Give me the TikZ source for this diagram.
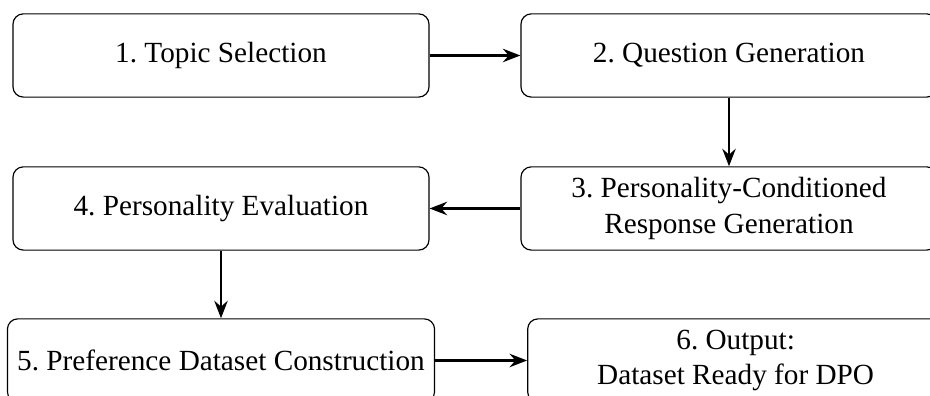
\documentclass[tikz,border=0pt]{standalone}
\usepackage{fontspec}
\setmainfont{Liberation Serif}
\frenchspacing
\usetikzlibrary{arrows.meta,positioning}
\begin{document}
\begin{tikzpicture}[x=0.342pt,y=-0.342pt,
  stage/.style={draw=black, line width=0.4pt, rounded corners=3.5pt,
    minimum width=5cm, minimum height=1cm, align=center, inner sep=3.33pt,
    font=\fontsize{10pt}{12pt}\selectfont},
  flow/.style={-{Stealth[length=6pt,width=4.6pt,inset=2pt]}, line width=0.8pt}]
  \useasboundingbox (0,0) rectangle (930,396);
  % pipeline stages
  \node[stage] (n1) at (221,55.5) {1. Topic Selection};
  \node[stage] (n2) at (729,55.5) {2. Question Generation};
  \node[stage] (n3) at (729,208.5) {3. Personality-Conditioned\\Response Generation};
  \node[stage] (n4) at (221,208.5) {4. Personality Evaluation};
  \node[stage] (n5) at (221,360.5) {5. Preference Dataset Construction};
  \node[stage, right=31.46pt of n5] (n6) {6. Output:\\Dataset Ready for DPO};
  % connectors
  \draw[flow] (n1) -- (n2);
  \draw[flow] (n2) -- (n3);
  \draw[flow] (n3) -- (n4);
  \draw[flow] (n4) -- (n5);
  \draw[flow] (n5) -- (n6);
\end{tikzpicture}
\end{document}
